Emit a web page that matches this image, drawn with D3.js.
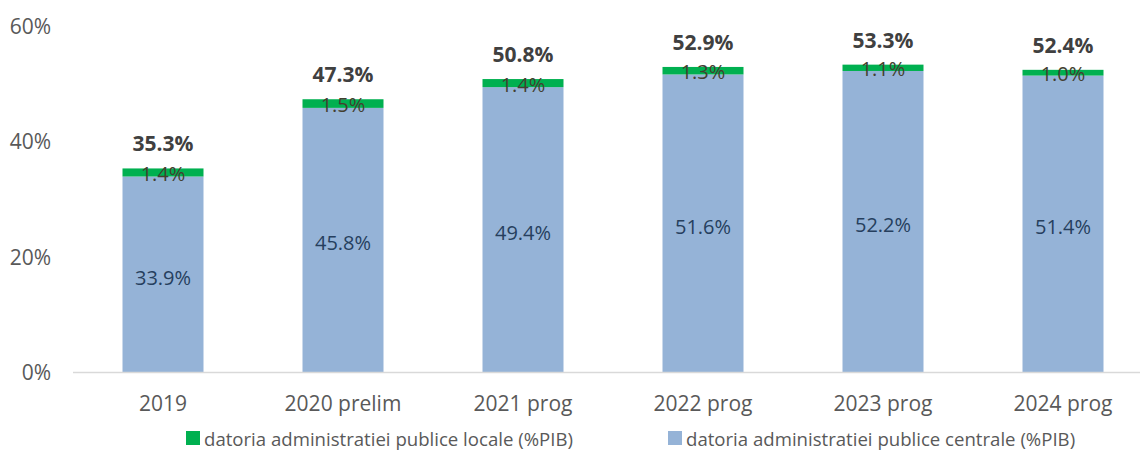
<!DOCTYPE html>
<html>
<head>
<meta charset="utf-8">
<script src="https://cdn.jsdelivr.net/npm/d3@7"></script>
<style>
  body { margin: 0; background: #fff; }
  svg { display: block; font-family: 'Open Sans', sans-serif; }
  .tick-label { fill: #595959; font-size: 21px; }
  .total { fill: #404040; font-size: 21px; font-weight: bold; }
  .legend { fill: #595959; font-size: 18.6px; }
</style>
</head>
<body>
<svg width="1140" height="450"></svg>
<script>
const years = ['2019', '2020 prelim', '2021 prog', '2022 prog', '2023 prog', '2024 prog'];
const central = [33.9, 45.8, 49.4, 51.6, 52.2, 51.4];
const local = [1.4, 1.5, 1.4, 1.3, 1.1, 1.0];
const totals = [35.3, 47.3, 50.8, 52.9, 53.3, 52.4];
const yTicks = [0, 20, 40, 60];
const legendNames = ['datoria administratiei publice locale (%PIB)', 'datoria administratiei publice centrale (%PIB)'];

const green = '#00b050';
const blue = '#95b3d7';

const svg = d3.select('svg');

const x = d3.scaleBand()
  .domain(years)
  .range([73, 1153])
  .paddingInner(0.55)
  .paddingOuter(0.275);

const y = d3.scaleLinear()
  .domain([0, 60])
  .range([372, 26]);

// y tick labels (no axis line, no gridlines)
svg.append('g')
  .selectAll('text')
  .data(yTicks)
  .enter()
  .append('text')
  .attr('class', 'tick-label')
  .attr('x', 51)
  .attr('y', (d) => y(d))
  .attr('text-anchor', 'end')
  .attr('dominant-baseline', 'central')
  .text((d) => d + '%');

const rows = years.map((yr, i) => ({ yr, c: central[i], l: local[i], t: totals[i] }));

const bars = svg.append('g').selectAll('g')
  .data(rows)
  .enter()
  .append('g');

bars.append('rect')
  .attr('x', (d) => x(d.yr))
  .attr('width', x.bandwidth())
  .attr('y', (d) => y(d.c))
  .attr('height', (d) => y(0) - y(d.c))
  .attr('fill', blue);

bars.append('rect')
  .attr('x', (d) => x(d.yr))
  .attr('width', x.bandwidth())
  .attr('y', (d) => y(d.c + d.l))
  .attr('height', (d) => y(d.c) - y(d.c + d.l))
  .attr('fill', green);

// x axis line
svg.append('line')
  .attr('x1', x.range()[0])
  .attr('x2', x.range()[1])
  .attr('y1', y(0) + 0.5)
  .attr('y2', y(0) + 0.5)
  .attr('stroke', '#d9d9d9')
  .attr('stroke-width', 1.5);

// category labels
svg.append('g')
  .selectAll('text')
  .data(years)
  .enter()
  .append('text')
  .attr('class', 'tick-label')
  .attr('x', (d) => x(d) + x.bandwidth() / 2)
  .attr('y', 403)
  .attr('text-anchor', 'middle')
  .attr('dominant-baseline', 'central')
  .text((d) => d);

// value labels
bars.append('text')
  .attr('x', (d) => x(d.yr) + x.bandwidth() / 2)
  .attr('y', (d) => y(d.c / 2) + 3)
  .attr('text-anchor', 'middle')
  .attr('dominant-baseline', 'central')
  .attr('fill', '#263f5e')
  .attr('font-size', '20px')
  .text((d) => d.c.toFixed(1) + '%');

bars.append('text')
  .attr('x', (d) => x(d.yr) + x.bandwidth() / 2)
  .attr('y', (d) => y(d.c + d.l / 2) + 1)
  .attr('text-anchor', 'middle')
  .attr('dominant-baseline', 'central')
  .attr('fill', '#433f30')
  .attr('font-size', '20px')
  .text((d) => d.l.toFixed(1) + '%');

bars.append('text')
  .attr('class', 'total')
  .attr('x', (d) => x(d.yr) + x.bandwidth() / 2)
  .attr('y', (d) => y(d.t) - 25)
  .attr('text-anchor', 'middle')
  .attr('dominant-baseline', 'central')
  .text((d) => d.t.toFixed(1) + '%');

// legend
const legendX = [186, 668];
const legend = svg.append('g')
  .selectAll('g')
  .data(legendNames)
  .enter()
  .append('g')
  .attr('transform', (d, i) => `translate(${legendX[i]}, 438)`);

legend.append('rect')
  .attr('x', 0)
  .attr('y', -7)
  .attr('width', 14)
  .attr('height', 14)
  .attr('fill', (d, i) => [green, blue][i]);

legend.append('text')
  .attr('class', 'legend')
  .attr('x', 18)
  .attr('y', 0)
  .attr('dominant-baseline', 'central')
  .text((d) => d);
</script>
</body>
</html>
